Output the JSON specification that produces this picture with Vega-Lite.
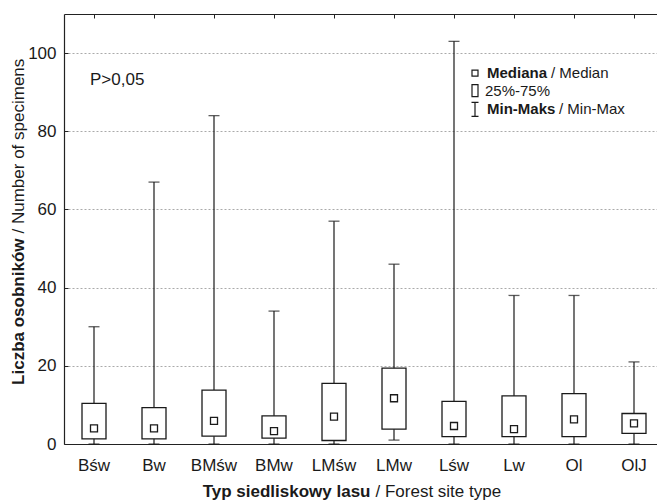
{
  "$schema": "https://vega.github.io/schema/vega-lite/v6.json",
  "width": 593,
  "height": 430,
  "autosize": {"type": "none"},
  "padding": {"left": 64, "top": 14, "right": 0, "bottom": 57},
  "background": "white",
  "config": {
    "view": {"stroke": null},
    "font": "Liberation Sans",
    "axis": {"domainColor": "#222", "domainWidth": 1.2, "tickColor": "#222", "labelColor": "#1a1a1a", "titleColor": "#1a1a1a", "labelFont": "Liberation Sans", "titleFont": "Liberation Sans"}
  },
  "data": {
    "values": [
      {"type": "Bśw", "min": 0, "q1": 1.3, "median": 4.0, "q3": 10.4, "max": 30},
      {"type": "Bw", "min": 0, "q1": 1.3, "median": 4.0, "q3": 9.3, "max": 67},
      {"type": "BMśw", "min": 0, "q1": 2.0, "median": 5.9, "q3": 13.8, "max": 84},
      {"type": "BMw", "min": 0, "q1": 1.5, "median": 3.3, "q3": 7.2, "max": 34},
      {"type": "LMśw", "min": 0, "q1": 0.9, "median": 7.0, "q3": 15.5, "max": 57},
      {"type": "LMw", "min": 1, "q1": 3.8, "median": 11.7, "q3": 19.4, "max": 46},
      {"type": "Lśw", "min": 0, "q1": 1.9, "median": 4.6, "q3": 10.9, "max": 103},
      {"type": "Lw", "min": 0, "q1": 1.9, "median": 3.8, "q3": 12.3, "max": 38},
      {"type": "Ol", "min": 0, "q1": 1.9, "median": 6.3, "q3": 12.9, "max": 38},
      {"type": "OlJ", "min": 0, "q1": 2.7, "median": 5.3, "q3": 7.8, "max": 21}
    ]
  },
  "resolve": {"axis": {"x": "independent", "y": "independent"}},
  "layer": [
    {
      "mark": {"type": "rule", "color": "#1a1a1a", "strokeWidth": 1.2},
      "encoding": {
        "x": {"field": "type", "type": "nominal", "sort": null,
          "scale": {"type": "band", "domain": ["Bśw","Bw","BMśw","BMw","LMśw","LMw","Lśw","Lw","Ol","OlJ"], "range": [0, 600], "paddingInner": 0, "paddingOuter": 0},
          "axis": {"orient": "bottom", "title": "Typ siedliskowy lasu", "titleFontWeight": "bold", "titleFontSize": 17, "titleAlign": "right", "titleAnchor": null, "titleX": 306, "titleY": 47, "titleBaseline": "middle", "labelFontSize": 17, "labelPadding": 13, "labelAngle": 0, "ticks": false, "domain": true, "grid": false}},
        "y": {"field": "min", "type": "quantitative",
          "scale": {"domain": [0, 110], "nice": false, "zero": true},
          "axis": {"orient": "left", "values": [0, 20, 40, 60, 80, 100], "grid": true, "gridDash": [2, 2], "gridColor": "#aaa", "gridWidth": 1, "tickSize": -4, "labelPadding": 12, "labelFontSize": 17, "title": "Liczba osobników", "titleFontWeight": "bold", "titleFontSize": 17, "titleAlign": "right", "titleAnchor": null, "titleX": -46, "titleY": 224, "titleBaseline": "middle", "titleAngle": -90}},
        "y2": {"field": "max"}
      }
    },
    {
      "mark": {"type": "tick", "color": "#1a1a1a", "size": 11, "thickness": 1.3},
      "encoding": {
        "x": {"field": "type", "type": "nominal", "sort": null,
          "scale": {"type": "band", "domain": ["Bśw","Bw","BMśw","BMw","LMśw","LMw","Lśw","Lw","Ol","OlJ"], "range": [0, 600], "paddingInner": 0, "paddingOuter": 0},
          "axis": {"orient": "bottom", "labels": false, "ticks": false, "domain": false, "grid": false, "title": "/ Forest site type", "titleFontWeight": "normal", "titleFontSize": 17, "titleAlign": "left", "titleAnchor": null, "titleX": 311, "titleY": 47, "titleBaseline": "middle"}},
        "y": {"field": "min", "type": "quantitative",
          "scale": {"domain": [0, 110], "nice": false, "zero": true},
          "axis": {"orient": "left", "labels": false, "ticks": false, "domain": false, "grid": false, "title": "/ Number of specimens", "titleFontWeight": "normal", "titleFontSize": 17, "titleAlign": "left", "titleAnchor": null, "titleX": -46, "titleY": 219, "titleBaseline": "middle", "titleAngle": -90}}
      }
    },
    {
      "mark": {"type": "tick", "color": "#1a1a1a", "size": 11, "thickness": 1.3},
      "encoding": {
        "x": {"field": "type", "type": "nominal", "sort": null,
          "scale": {"type": "band", "domain": ["Bśw","Bw","BMśw","BMw","LMśw","LMw","Lśw","Lw","Ol","OlJ"], "range": [0, 600], "paddingInner": 0, "paddingOuter": 0},
          "axis": {"orient": "top", "labels": false, "ticks": true, "tickSize": -4, "domain": true, "grid": false, "title": null}},
        "y": {"field": "max", "type": "quantitative",
          "scale": {"domain": [0, 110], "nice": false, "zero": true},
          "axis": null}
      }
    },
    {
      "mark": {"type": "bar", "size": 24, "fill": "white", "stroke": "#1a1a1a", "strokeWidth": 1.3},
      "encoding": {
        "x": {"field": "type", "type": "nominal", "sort": null, "axis": null,
          "scale": {"type": "band", "domain": ["Bśw","Bw","BMśw","BMw","LMśw","LMw","Lśw","Lw","Ol","OlJ"], "range": [0, 600], "paddingInner": 0, "paddingOuter": 0}},
        "y": {"field": "q1", "type": "quantitative", "axis": null,
          "scale": {"domain": [0, 110], "nice": false, "zero": true}},
        "y2": {"field": "q3"}
      }
    },
    {
      "mark": {"type": "point", "shape": "square", "size": 49, "filled": true, "fill": "white", "stroke": "#1a1a1a", "strokeWidth": 1.3, "opacity": 1},
      "encoding": {
        "x": {"field": "type", "type": "nominal", "sort": null, "axis": null,
          "scale": {"type": "band", "domain": ["Bśw","Bw","BMśw","BMw","LMśw","LMw","Lśw","Lw","Ol","OlJ"], "range": [0, 600], "paddingInner": 0, "paddingOuter": 0}},
        "y": {"field": "median", "type": "quantitative", "axis": null,
          "scale": {"domain": [0, 110], "nice": false, "zero": true}}
      }
    },
    {
      "data": {"values": [{}]},
      "mark": {"type": "text", "align": "left", "baseline": "middle", "fontSize": 17, "dx": -4, "color": "#1a1a1a"},
      "encoding": {
        "x": {"datum": "Bśw", "type": "nominal", "axis": null},
        "y": {"datum": 93.2, "type": "quantitative", "axis": null},
        "text": {"value": "P>0,05"}
      }
    },
    {
      "data": {"values": [{}]},
      "mark": {"type": "point", "shape": "square", "size": 36, "filled": true, "fill": "white", "stroke": "#1a1a1a", "strokeWidth": 1.2, "opacity": 1, "xOffset": -39},
      "encoding": {
        "x": {"datum": "Lw", "type": "nominal", "axis": null},
        "y": {"datum": 94.9, "type": "quantitative", "axis": null}
      }
    },
    {
      "data": {"values": [{}]},
      "mark": {"type": "point", "shape": "M-0.5,-1H0.5V1H-0.5Z", "size": 144, "filled": true, "fill": "white", "stroke": "#1a1a1a", "strokeWidth": 1.2, "opacity": 1, "xOffset": -39},
      "encoding": {
        "x": {"datum": "Lw", "type": "nominal", "axis": null},
        "y": {"datum": 90.4, "type": "quantitative", "axis": null}
      }
    },
    {
      "data": {"values": [{}]},
      "mark": {"type": "point", "shape": "M-0.5,-1H0.5M0,-1V1M-0.5,1H0.5", "size": 196, "filled": false, "stroke": "#1a1a1a", "strokeWidth": 1.2, "opacity": 1, "xOffset": -39},
      "encoding": {
        "x": {"datum": "Lw", "type": "nominal", "axis": null},
        "y": {"datum": 85.6, "type": "quantitative", "axis": null}
      }
    },
    {
      "data": {"values": [{}]},
      "mark": {"type": "text", "align": "left", "baseline": "middle", "fontSize": 15, "fontWeight": "bold", "dx": -27, "color": "#1a1a1a"},
      "encoding": {
        "x": {"datum": "Lw", "type": "nominal", "axis": null},
        "y": {"datum": 94.9, "type": "quantitative", "axis": null},
        "text": {"value": "Mediana"}
      }
    },
    {
      "data": {"values": [{}]},
      "mark": {"type": "text", "align": "left", "baseline": "middle", "fontSize": 15, "dx": 37, "color": "#1a1a1a"},
      "encoding": {
        "x": {"datum": "Lw", "type": "nominal", "axis": null},
        "y": {"datum": 94.9, "type": "quantitative", "axis": null},
        "text": {"value": "/ Median"}
      }
    },
    {
      "data": {"values": [{}]},
      "mark": {"type": "text", "align": "left", "baseline": "middle", "fontSize": 15, "dx": -29, "color": "#1a1a1a"},
      "encoding": {
        "x": {"datum": "Lw", "type": "nominal", "axis": null},
        "y": {"datum": 90.4, "type": "quantitative", "axis": null},
        "text": {"value": "25%-75%"}
      }
    },
    {
      "data": {"values": [{}]},
      "mark": {"type": "text", "align": "left", "baseline": "middle", "fontSize": 15, "fontWeight": "bold", "dx": -27, "color": "#1a1a1a"},
      "encoding": {
        "x": {"datum": "Lw", "type": "nominal", "axis": null},
        "y": {"datum": 85.6, "type": "quantitative", "axis": null},
        "text": {"value": "Min-Maks"}
      }
    },
    {
      "data": {"values": [{}]},
      "mark": {"type": "text", "align": "left", "baseline": "middle", "fontSize": 15, "dx": 45, "color": "#1a1a1a"},
      "encoding": {
        "x": {"datum": "Lw", "type": "nominal", "axis": null},
        "y": {"datum": 85.6, "type": "quantitative", "axis": null},
        "text": {"value": "/ Min-Max"}
      }
    }
  ]
}
